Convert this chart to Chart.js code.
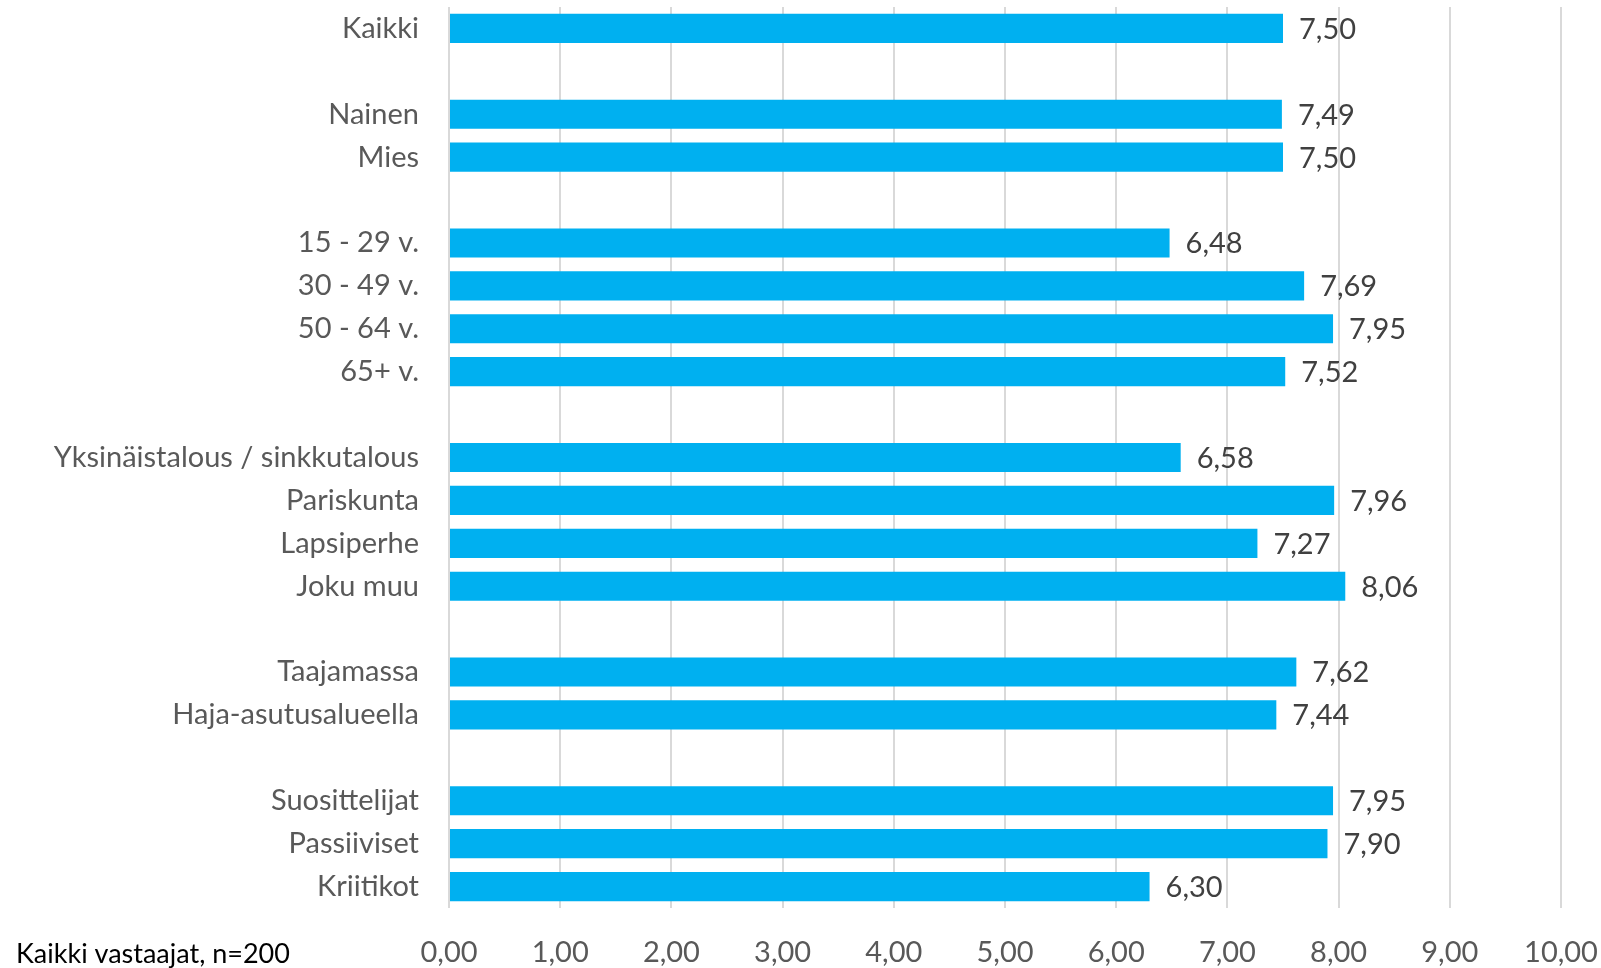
<!DOCTYPE html>
<html>
<head>
<meta charset="utf-8">
<script src="https://cdn.jsdelivr.net/npm/chart.js@4.4.1/dist/chart.umd.min.js"></script>
<style>
  html, body { margin: 0; padding: 0; background: #fff; }
  #wrap { width: 1601px; height: 968px; position: relative; }
</style>
</head>
<body>
<div id="wrap"><canvas id="grafico"></canvas></div>
<script>
// ================= DADOS =================
const categorias = [
  'Kaikki', '',
  'Nainen', 'Mies', '',
  '15 - 29 v.', '30 - 49 v.', '50 - 64 v.', '65+ v.', '',
  'Yksinäistalous / sinkkutalous', 'Pariskunta', 'Lapsiperhe', 'Joku muu', '',
  'Taajamassa', 'Haja-asutusalueella', '',
  'Suosittelijat', 'Passiiviset', 'Kriitikot'
];
const valores = [
  7.50, null,
  7.49, 7.50, null,
  6.48, 7.69, 7.95, 7.52, null,
  6.58, 7.96, 7.27, 8.06, null,
  7.62, 7.44, null,
  7.95, 7.90, 6.30
];
const ticksX = [0, 1, 2, 3, 4, 5, 6, 7, 8, 9, 10];
const rodape = 'Kaikki vastaajat, n=200';

const FONTE = 'Lato';
const CINZA = '#595959';

const formatar = v => v.toFixed(2).replace('.', ',');

// Rótulos de valor no fim das barras
const rotulosValor = {
  id: 'rotulosValor',
  afterDatasetsDraw(chart) {
    const ctx = chart.ctx;
    const meta = chart.getDatasetMeta(0);
    ctx.save();
    ctx.font = '29px ' + FONTE;
    ctx.fillStyle = '#404040';
    ctx.textAlign = 'left';
    ctx.textBaseline = 'middle';
    meta.data.forEach((bar, i) => {
      const v = valores[i];
      if (v === null) return;
      ctx.fillText(formatar(v), bar.x + 16, bar.y + 1);
    });
    ctx.restore();
  }
};

// Texto do rodapé
const textoRodape = {
  id: 'textoRodape',
  afterDraw(chart) {
    const ctx = chart.ctx;
    ctx.save();
    ctx.font = '27px ' + FONTE;
    ctx.fillStyle = '#000';
    ctx.textAlign = 'left';
    ctx.textBaseline = 'middle';
    ctx.fillText(rodape, 16, 954);
    ctx.restore();
  }
};

new Chart(document.getElementById('grafico'), {
  type: 'bar',
  data: {
    labels: categorias,
    datasets: [{
      data: valores,
      backgroundColor: '#00B0F0',
      borderWidth: 0,
      categoryPercentage: 1,
      barPercentage: 0.68
    }]
  },
  options: {
    indexAxis: 'y',
    responsive: true,
    maintainAspectRatio: false,
    animation: false,
    layout: { padding: { top: 7, right: 40, bottom: 0, left: 0 } },
    plugins: {
      legend: { display: false },
      tooltip: { enabled: false }
    },
    scales: {
      x: {
        min: 0,
        max: 10,
        afterFit: s => { s.height = 60; s.paddingLeft = 0; s.paddingRight = 0; },
        afterBuildTicks: s => { s.ticks = ticksX.map(v => ({ value: v })); },
        grid: { color: '#D9D9D9', lineWidth: 2, drawTicks: false },
        border: { display: false },
        ticks: {
          padding: 27,
          color: CINZA,
          font: { family: FONTE, size: 29 },
          callback: v => formatar(v)
        }
      },
      y: {
        afterFit: s => { s.width = 449; s.paddingTop = 0; s.paddingBottom = 0; },
        grid: { display: false, drawTicks: false },
        border: { display: false },
        ticks: {
          padding: 30,
          color: CINZA,
          font: { family: FONTE, size: 29 },
          autoSkip: false
        }
      }
    }
  },
  plugins: [rotulosValor, textoRodape]
});
</script>
</body>
</html>
